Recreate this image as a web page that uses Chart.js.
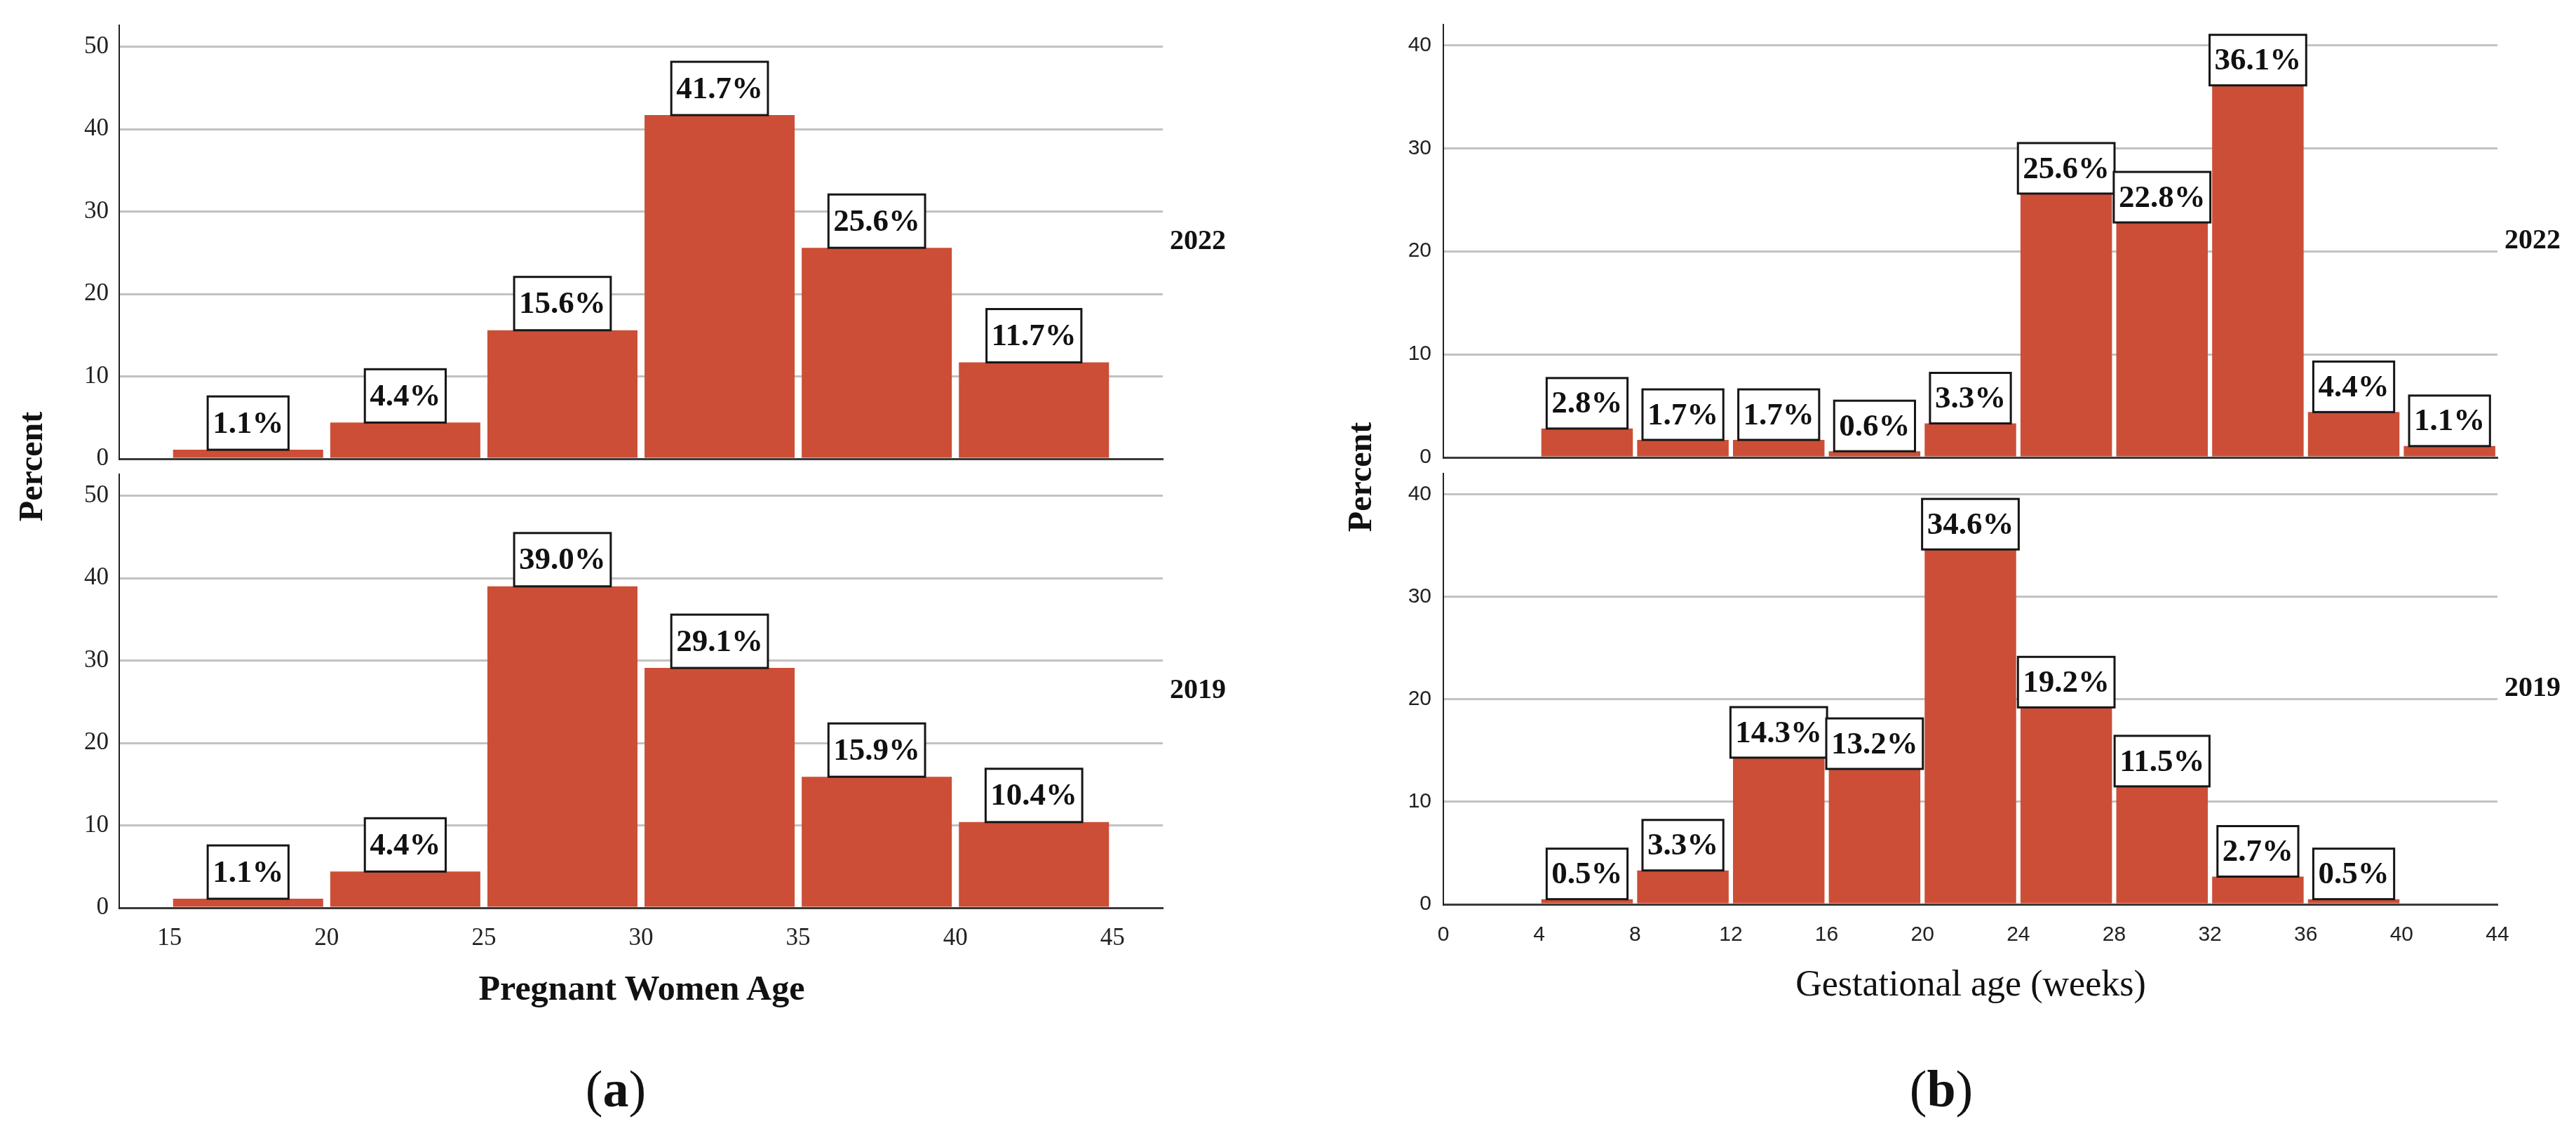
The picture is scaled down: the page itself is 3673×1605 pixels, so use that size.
<!DOCTYPE html>
<html>
<head>
<meta charset="utf-8">
<script src="https://cdn.jsdelivr.net/npm/chart.js@4.4.0/dist/chart.umd.min.js"></script>
<style>
  body { margin: 0; background: #fff; width: 3673px; height: 1605px; position: relative; overflow: hidden; font-family: "Liberation Serif", serif; color: #111; }
  .pane { position: absolute; }
  .txt { position: absolute; white-space: nowrap; text-align: center; }
  .rot { transform: rotate(-90deg); }
</style>
</head>
<body>

<div class="pane" style="left:0;top:0;width:1800px;height:690px"><canvas id="ageTop"></canvas></div>
<div class="pane" style="left:0;top:640px;width:1800px;height:760px"><canvas id="ageBottom"></canvas></div>
<div class="pane" style="left:1880px;top:0;width:1793px;height:690px"><canvas id="gestTop"></canvas></div>
<div class="pane" style="left:1880px;top:640px;width:1793px;height:760px"><canvas id="gestBottom"></canvas></div>

<div class="txt rot" style="left:-156px;top:641px;width:400px;height:48px;line-height:48px;font-size:48px;font-weight:bold">Percent</div>
<div class="txt rot" style="left:1739px;top:656px;width:400px;height:48px;line-height:48px;font-size:48px;font-weight:bold">Percent</div>
<div class="txt" style="left:415px;top:1383px;width:1000px;line-height:50px;font-size:50px;font-weight:bold">Pregnant Women Age</div>
<div class="txt" style="left:2310px;top:1376px;width:1000px;line-height:52px;font-size:52px">Gestational age (weeks)</div>
<div class="txt" style="left:378px;top:1515px;width:1000px;line-height:74px;font-size:74px">(<b>a</b>)</div>
<div class="txt" style="left:2268px;top:1515px;width:1000px;line-height:74px;font-size:74px">(<b>b</b>)</div>

<script>
// bins (start of each interval) and percentages
const ageBinStart = [15, 20, 25, 30, 35, 40];
const ageBinWidth = 5;
const age2022 = [1.1, 4.4, 15.6, 41.7, 25.6, 11.7];
const age2019 = [1.1, 4.4, 39.0, 29.1, 15.9, 10.4];

const gestBinStart = [4, 8, 12, 16, 20, 24, 28, 32, 36, 40];
const gestBinWidth = 4;
const gest2022 = [2.8, 1.7, 1.7, 0.6, 3.3, 25.6, 22.8, 36.1, 4.4, 1.1];
const gest2019 = [0.5, 3.3, 14.3, 13.2, 34.6, 19.2, 11.5, 2.7, 0.5, null];

const ageXTicks = [15, 20, 25, 30, 35, 40, 45];
const ageYTicks = [0, 10, 20, 30, 40, 50];
const gestXTicks = [0, 4, 8, 12, 16, 20, 24, 28, 32, 36, 40, 44];
const gestYTicks = [0, 10, 20, 30, 40];

const barColor = '#cc4e36';

// boxed percentage labels on top of bars + year tag on the right
const boxLabels = {
    id: 'boxLabels',
    afterDatasetsDraw(chart, args, opts) {
        const ctx = chart.ctx;
        const meta = chart.getDatasetMeta(0);
        const data = chart.data.datasets[0].data;
        ctx.save();
        ctx.font = opts.font;
        ctx.textAlign = 'center';
        ctx.textBaseline = 'middle';
        meta.data.forEach((bar, i) => {
            const v = data[i].y;
            if (v == null) return;
            const text = v.toFixed(1) + '%';
            const w = ctx.measureText(text).width + 14;
            const h = opts.boxHeight;
            const x0 = bar.x - w / 2;
            const y0 = bar.y - h;
            ctx.fillStyle = '#fff';
            ctx.fillRect(x0, y0, w, h);
            ctx.lineWidth = 3;
            ctx.strokeStyle = '#151515';
            ctx.strokeRect(x0, y0, w, h);
            ctx.fillStyle = '#111';
            ctx.fillText(text, bar.x, y0 + h / 2 + 2);
        });
        const area = chart.chartArea;
        ctx.font = 'bold 40px "Liberation Serif"';
        ctx.textAlign = 'left';
        ctx.fillText(opts.year, area.right + 10, (area.top + area.bottom) / 2);
        ctx.restore();
    }
};

function makePanel(id, cfg) {
    const points = cfg.starts
        .map((s, i) => ({ x: s + cfg.width / 2, y: cfg.values[i] }))
        .filter(p => p.y != null);

    new Chart(document.getElementById(id), {
        type: 'bar',
        data: {
            datasets: [{
                data: points,
                backgroundColor: barColor,
                borderWidth: 0,
                barPercentage: 0.955,
                categoryPercentage: 1
            }]
        },
        plugins: [boxLabels],
        options: {
            responsive: true,
            maintainAspectRatio: false,
            animation: false,
            layout: { padding: cfg.padding },
            plugins: {
                legend: { display: false },
                tooltip: { enabled: false },
                boxLabels: { font: 'bold 45px "Liberation Serif"', boxHeight: cfg.boxHeight, year: cfg.year }
            },
            scales: {
                x: {
                    type: 'linear',
                    offset: false,
                    min: cfg.xMin,
                    max: cfg.xMax,
                    afterBuildTicks: s => { s.ticks = cfg.xTicks.map(v => ({ value: v })); },
                    afterFit: s => { s.height = cfg.xHeight; },
                    grid: { display: false },
                    border: { display: true, color: '#3a3a3a', width: 3 },
                    ticks: {
                        display: cfg.showX,
                        padding: cfg.xPad,
                        color: '#222',
                        font: cfg.xFont,
                        maxRotation: 0,
                        autoSkip: false
                    }
                },
                y: {
                    min: 0,
                    max: cfg.yMax,
                    afterBuildTicks: s => { s.ticks = cfg.yTicks.map(v => ({ value: v })); },
                    afterFit: s => { s.width = cfg.yWidth; },
                    grid: {
                        drawTicks: false,
                        lineWidth: 3,
                        color: c => c.tick && c.tick.value === 0 ? 'rgba(0,0,0,0)' : '#c2c2c2'
                    },
                    border: { display: true, color: '#222', width: 2 },
                    ticks: { padding: cfg.yPad, color: '#222', font: cfg.yFont }
                }
            }
        }
    });
}

const serifTick = { family: 'Liberation Serif', size: 35 };
const sansTick = { family: 'Liberation Sans', size: 30 };

const ageCommon = {
    starts: ageBinStart, width: ageBinWidth, xMin: 13.4, xMax: 46.6,
    xTicks: ageXTicks, yTicks: ageYTicks, yMax: 52.6, yWidth: 170, yPad: 15,
    xFont: serifTick, yFont: serifTick, xPad: 15, boxHeight: 76
};
const gestCommon = {
    starts: gestBinStart, width: gestBinWidth, xMin: 0, xMax: 44,
    xTicks: gestXTicks, yTicks: gestYTicks, yMax: 42, yWidth: 178, yPad: 17,
    xFont: sansTick, yFont: sansTick, xPad: 18, boxHeight: 72
};

makePanel('ageTop', Object.assign({}, ageCommon, {
    values: age2022, year: '2022', showX: false, xHeight: 34,
    padding: { left: 0, top: 36, right: 142, bottom: 0 }
}));
makePanel('ageBottom', Object.assign({}, ageCommon, {
    values: age2019, year: '2019', showX: true, xHeight: 60,
    padding: { left: 0, top: 33, right: 142, bottom: 46 }
}));
makePanel('gestTop', Object.assign({}, gestCommon, {
    values: gest2022, year: '2022', showX: false, xHeight: 38,
    padding: { left: 0, top: 34, right: 112, bottom: 0 }
}));
makePanel('gestBottom', Object.assign({}, gestCommon, {
    values: gest2019, year: '2019', showX: true, xHeight: 60,
    padding: { left: 0, top: 32, right: 112, bottom: 51 }
}));
</script>
</body>
</html>
